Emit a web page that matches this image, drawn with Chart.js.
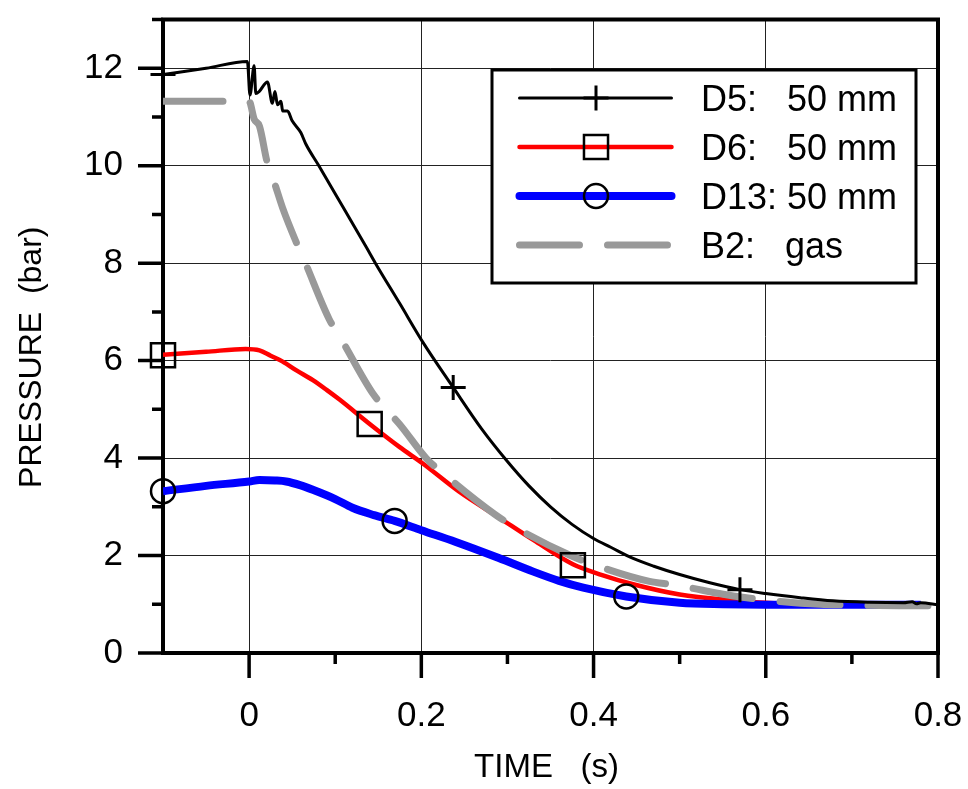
<!DOCTYPE html>
<html>
<head>
<meta charset="utf-8">
<script src="https://cdn.jsdelivr.net/npm/chart.js"></script>
<style>
  body { margin: 0; background: #fff; }
</style>
</head>
<body>
<canvas id="chart" width="968" height="789"></canvas>
<script>
// D5: 50 mm (black, with the spikes right after t = 0)
const d5Time = [-0.1, -0.05, -0.002, 0.001, 0.0058, 0.0078, 0.0116, 0.0213, 0.027, 0.030, 0.033, 0.037, 0.039, 0.0446,
  0.050, 0.060, 0.066, 0.081, 0.109, 0.136, 0.147, 0.175, 0.2017, 0.237, 0.27, 0.30, 0.325, 0.35, 0.375, 0.40,
  0.42, 0.446, 0.47, 0.50, 0.535, 0.57, 0.60, 0.64, 0.678, 0.72, 0.76, 0.77, 0.775, 0.78, 0.80];
const d5Pres = [11.87, 12.0, 12.14, 11.45, 12.05, 11.48, 11.52, 11.72, 11.28, 11.52, 11.25, 11.32, 11.12, 11.12,
  10.92, 10.68, 10.44, 10.0, 9.15, 8.33, 7.99, 7.17, 6.38, 5.45, 4.6, 3.93, 3.43, 3.0, 2.64, 2.35,
  2.17, 1.94, 1.78, 1.61, 1.44, 1.30, 1.22, 1.135, 1.07, 1.04, 1.03, 1.05, 1.01, 1.03, 0.99];

// D6: 50 mm (red)
const d6Time = [-0.1, -0.05, -0.004, 0.012, 0.025, 0.039, 0.055, 0.074, 0.09, 0.105, 0.14, 0.1745, 0.2017, 0.244,
  0.291, 0.33, 0.376, 0.41, 0.446, 0.5, 0.562, 0.6, 0.65, 0.7, 0.76];
const d6Pres = [6.12, 6.18, 6.24, 6.21, 6.1, 5.98, 5.8, 5.6, 5.4, 5.2, 4.7, 4.23, 3.89, 3.31,
  2.77, 2.32, 1.82, 1.6, 1.41, 1.2, 1.08, 1.03, 1.0, 0.99, 0.99];

// D13: 50 mm (blue)
const d13Time = [-0.1, -0.05, 0, 0.012, 0.03, 0.043, 0.06, 0.074, 0.1, 0.12, 0.145, 0.169, 0.2, 0.24, 0.29,
  0.33, 0.36, 0.388, 0.438, 0.5, 0.55, 0.6, 0.7, 0.78];
const d13Pres = [3.32, 3.43, 3.52, 3.55, 3.54, 3.52, 3.44, 3.35, 3.16, 2.98, 2.83, 2.71, 2.52, 2.28, 1.95,
  1.67, 1.48, 1.34, 1.16, 1.03, 1.0, 0.99, 0.99, 0.99];

// B2: gas (grey dashed)
const b2Time = [-0.1, 0, 0.006, 0.012, 0.021, 0.029, 0.039, 0.054, 0.064, 0.093, 0.107, 0.1435, 0.159, 0.1745,
  0.206, 0.225, 0.285, 0.306, 0.372, 0.396, 0.465, 0.493, 0.5625, 0.593, 0.663, 0.698, 0.764, 0.8];
const b2Pres = [11.32, 11.32, 10.95, 10.81, 10.07, 9.67, 9.13, 8.46, 8.06, 6.85, 6.44, 5.33, 5.0, 4.7,
  3.99, 3.69, 2.85, 2.61, 2.01, 1.84, 1.47, 1.40, 1.17, 1.10, 1.0, 0.985, 0.97, 0.97];

// symbols sitting on the curves
const d5MarkTime = [-0.1, 0.237, 0.570];
const d5MarkPres = [11.87, 5.45, 1.30];
const d6MarkTime = [-0.1, 0.14, 0.376];
const d6MarkPres = [6.11, 4.70, 1.80];
const d13MarkTime = [-0.1, 0.169, 0.438];
const d13MarkPres = [3.32, 2.71, 1.16];

// axes
const xMajor = [0, 0.2, 0.4, 0.6, 0.8];
const xMinor = [0.1, 0.3, 0.5, 0.7];
const yMajor = [0, 2, 4, 6, 8, 10, 12];
const yMinor = [1, 3, 5, 7, 9, 11, 13];
const xTitle = 'TIME   (s)';
const yTitle = 'PRESSURE  (bar)';

const legendNames = ['D5:   50 mm', 'D6:   50 mm', 'D13: 50 mm', 'B2:   gas'];

const FONT = '"Liberation Sans", Arial, sans-serif';

const pts = (xs, ys) => xs.map((x, i) => ({ x: x, y: ys[i] }));

function lineSet(data, color, width, dash) {
  return {
    data: data, borderColor: color, borderWidth: width, borderDash: dash || [],
    borderCapStyle: dash ? 'round' : 'butt', borderJoinStyle: 'round',
    showLine: true, pointRadius: 0, cubicInterpolationMode: 'monotone', fill: false
  };
}
function markSet(data, style, r, bw) {
  return {
    data: data, showLine: false, pointStyle: style, pointRadius: r,
    pointBorderColor: '#000', pointBackgroundColor: 'rgba(0,0,0,0)',
    pointBorderWidth: bw, clip: false
  };
}

const d5Marks = markSet(pts(d5MarkTime, d5MarkPres), 'cross', 12.5, 3);
const d6Marks = markSet(pts(d6MarkTime, d6MarkPres), 'rect', 17, 2.5);
const d13Marks = markSet(pts(d13MarkTime, d13MarkPres), 'circle', 12, 2.5);
const d5Line = lineSet(pts(d5Time, d5Pres), '#000', 3);
const b2Line = lineSet(pts(b2Time, b2Pres), '#999', 7, [60, 28]);
const d6Line = lineSet(pts(d6Time, d6Pres), '#ff0000', 4.5);
const d13Line = lineSet(pts(d13Time, d13Pres), '#0000ff', 8);

// frame, outward ticks and axis titles
const frame = {
  id: 'frame',
  beforeDatasetsDraw(chart) {
    const { ctx, chartArea: a, scales: { x, y } } = chart;
    ctx.save();
    ctx.strokeStyle = '#000';
    ctx.lineWidth = 3.5;
    ctx.beginPath();
    xMajor.forEach(v => { const px = x.getPixelForValue(v); ctx.moveTo(px, a.bottom); ctx.lineTo(px, a.bottom + 25); });
    xMinor.forEach(v => { const px = x.getPixelForValue(v); ctx.moveTo(px, a.bottom); ctx.lineTo(px, a.bottom + 11); });
    yMajor.forEach(v => { const py = y.getPixelForValue(v); ctx.moveTo(a.left, py); ctx.lineTo(a.left - 25, py); });
    yMinor.forEach(v => { const py = y.getPixelForValue(v); ctx.moveTo(a.left, py); ctx.lineTo(a.left - 11, py); });
    ctx.stroke();
    ctx.lineWidth = 4;
    ctx.strokeRect(a.left, a.top, a.right - a.left, a.bottom - a.top);

    ctx.fillStyle = '#000';
    ctx.font = '33px ' + FONT;
    ctx.textAlign = 'center';
    ctx.textBaseline = 'alphabetic';
    ctx.fillText(xTitle, (a.left + a.right) / 2 - 4, a.bottom + 124);
    ctx.font = '32px ' + FONT;
    ctx.translate(41, (a.top + a.bottom) / 2 + 21);
    ctx.rotate(-Math.PI / 2);
    ctx.fillText(yTitle, 0, 0);
    ctx.restore();
  }
};

// legend box: line sample with its symbol in the middle
const legendBox = {
  id: 'legendBox',
  afterDraw(chart) {
    const ctx = chart.ctx;
    const lines = [d5Line, d6Line, d13Line, b2Line];
    const marks = [d5Marks, d6Marks, d13Marks, null];
    const left = 492, top = 70, w = 424, h = 213;
    ctx.save();
    ctx.fillStyle = '#fff';
    ctx.fillRect(left, top, w, h);
    ctx.strokeStyle = '#000';
    ctx.lineWidth = 3;
    ctx.strokeRect(left, top, w, h);
    lines.forEach((ds, i) => {
      const cy = top + 28 + i * 49;
      ctx.save();
      ctx.strokeStyle = ds.borderColor;
      ctx.lineWidth = ds.borderWidth;
      ctx.lineCap = 'round';
      ctx.setLineDash(ds.borderDash);
      ctx.beginPath();
      ctx.moveTo(519.5, cy);
      ctx.lineTo(671.5, cy);
      ctx.stroke();
      ctx.restore();
      const m = marks[i];
      if (m) {
        ctx.strokeStyle = '#000';
        ctx.fillStyle = 'rgba(0,0,0,0)';
        ctx.lineWidth = m.pointBorderWidth;
        Chart.helpers.drawPoint(ctx, { pointStyle: m.pointStyle, radius: m.pointRadius, rotation: 0, borderWidth: m.pointBorderWidth }, 596, cy);
      }
      ctx.fillStyle = '#000';
      ctx.font = '36px ' + FONT;
      ctx.textAlign = 'left';
      ctx.textBaseline = 'alphabetic';
      ctx.fillText(legendNames[i], 701, cy + 13);
    });
    ctx.restore();
  }
};

// keep label overhang from shrinking the plot area
const noPad = s => { s.paddingTop = 0; s.paddingBottom = 0; s.paddingLeft = 0; s.paddingRight = 0; };

const tickFont = { family: FONT, size: 35 };

new Chart(document.getElementById('chart'), {
  type: 'scatter',
  // first in the list is drawn last (on top)
  data: { datasets: [d5Marks, d6Marks, d13Marks, d5Line, b2Line, d13Line, d6Line] },
  options: {
    responsive: false,
    animation: false,
    layout: { padding: { top: 8, right: 30, left: 0, bottom: 0 } },
    plugins: { legend: { display: false }, tooltip: { enabled: false } },
    scales: {
      x: {
        type: 'linear', min: -0.1, max: 0.8,
        afterFit: s => { s.height = 136; noPad(s); },
        afterBuildTicks: s => { s.ticks = xMajor.map(v => ({ value: v })); },
        grid: { color: '#222', lineWidth: 1, drawTicks: false },
        border: { display: false },
        ticks: { font: tickFont, color: '#000', padding: 42, maxRotation: 0, autoSkip: false, callback: v => String(v) }
      },
      y: {
        type: 'linear', min: 0, max: 13,
        afterFit: s => { s.width = 163; noPad(s); },
        afterBuildTicks: s => { s.ticks = yMajor.map(v => ({ value: v })); },
        grid: { color: '#222', lineWidth: 1, drawTicks: false },
        border: { display: false },
        ticks: { font: tickFont, color: '#000', padding: 40, autoSkip: false, callback: v => String(v) }
      }
    }
  },
  plugins: [frame, legendBox]
});
</script>
</body>
</html>
